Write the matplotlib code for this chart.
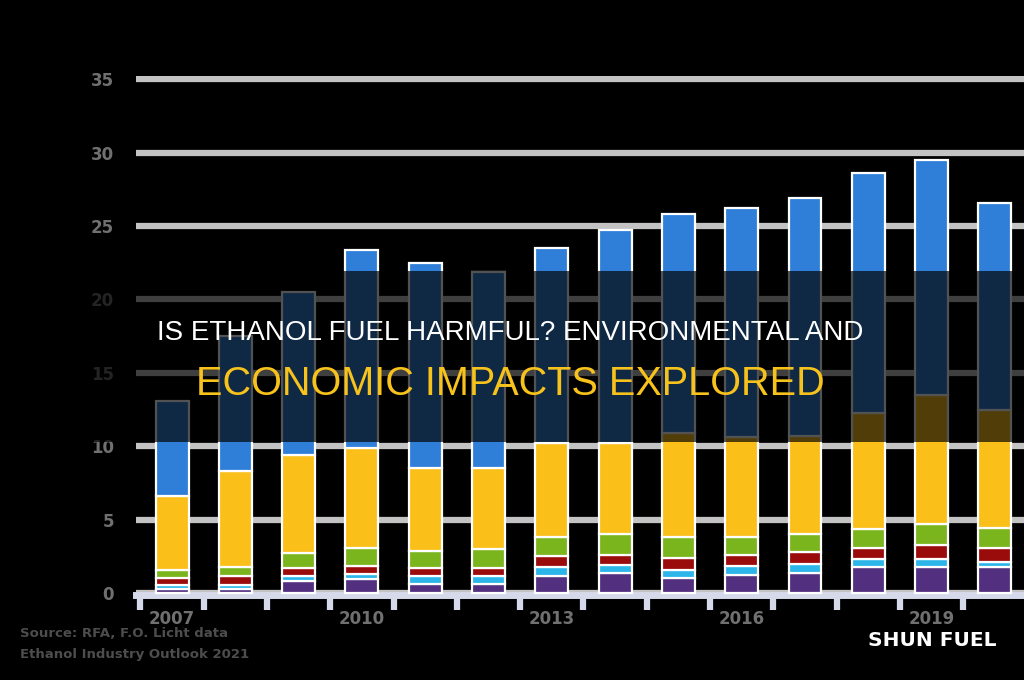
import numpy as np
import matplotlib
matplotlib.use("Agg")
import matplotlib.pyplot as plt
from matplotlib.patches import Rectangle

# data (stacked, bottom -> top)
years = [2007, 2008, 2009, 2010, 2011, 2012, 2013, 2014, 2015, 2016, 2017, 2018, 2019, 2020]
purple = [0.27, 0.27, 0.85, 0.95, 0.60, 0.65, 1.15, 1.35, 1.05, 1.25, 1.40, 1.75, 1.75, 1.75]
light_blue = [0.28, 0.28, 0.35, 0.35, 0.55, 0.50, 0.65, 0.55, 0.55, 0.60, 0.60, 0.55, 0.55, 0.40]
dark_red = [0.45, 0.60, 0.50, 0.55, 0.55, 0.55, 0.70, 0.70, 0.80, 0.75, 0.80, 0.75, 0.95, 0.90]
green = [0.60, 0.65, 1.00, 1.25, 1.15, 1.30, 1.35, 1.45, 1.40, 1.20, 1.25, 1.30, 1.45, 1.40]
yellow = [5.00, 6.50, 6.70, 6.80, 5.65, 5.50, 6.35, 6.15, 7.10, 6.80, 6.65, 7.95, 8.80, 8.05]
blue = [6.50, 9.20, 11.10, 13.50, 14.00, 13.40, 13.30, 14.50, 14.90, 15.60, 16.20, 16.30, 16.00, 14.10]

series = [purple, light_blue, dark_red, green, yellow, blue]
colors = ['#52307f', '#2bb5e8', '#9a0b0c', '#7ab51d', '#fbbf1a', '#2f7fd8']
yticks = [0, 5, 10, 15, 20, 25, 30, 35]
year_labels = ['2007', '2010', '2013', '2016', '2019']

fig = plt.figure(figsize=(10.24, 6.8), dpi=100, facecolor='black')
ax = fig.add_axes([0.1328, 0.1029, 0.8672, 0.785])
ax.set_facecolor('black')

x = np.arange(len(years))
bottom = np.zeros(len(years))
for vals, c in zip(series, colors):
    ax.bar(x, vals, bottom=bottom, width=0.52, color=c, edgecolor='white',
           linewidth=1.6, zorder=3)
    bottom += np.array(vals)

ax.set_xlim(-0.57, 13.46)
ax.set_ylim(-1.15, 35.2)

# grid
ax.set_axisbelow(True)
ax.yaxis.grid(True, color='#c3c3c3', linewidth=4.5)
ax.set_yticks(yticks)
ax.set_yticklabels([str(t) for t in yticks])
ax.tick_params(axis='y', length=0, pad=16, labelsize=12, labelcolor='#707070')
for lab in ax.get_yticklabels():
    lab.set_fontweight('bold')

# baseline with ticks between bars
for s in ['top', 'right', 'left']:
    ax.spines[s].set_visible(False)
ax.spines['bottom'].set_position(('data', -0.1))
ax.spines['bottom'].set_color('#d6d9ea')
ax.spines['bottom'].set_linewidth(5)
ax.spines['bottom'].set_zorder(2)
ax.set_xticks(x - 0.5, minor=True)
ax.set_xticks([years.index(int(y)) for y in year_labels])
ax.set_xticklabels(year_labels)
ax.tick_params(axis='x', which='minor', length=11, width=4.5, color='#d6d9ea', direction='out')
ax.tick_params(axis='x', which='major', length=0, pad=11, labelsize=12, labelcolor='#707070')
for lab in ax.get_xticklabels():
    lab.set_fontweight('bold')

# source note
fig.text(0.02, 0.068, 'Source: RFA, F.O. Licht data', color='#4d4d4d',
         fontsize=9.5, fontweight='bold', ha='left', va='center')
fig.text(0.02, 0.038, 'Ethanol Industry Outlook 2021', color='#4d4d4d',
         fontsize=9.5, fontweight='bold', ha='left', va='center')

# title band
fig.add_artist(Rectangle((0, 0.35), 1, 0.2515, transform=fig.transFigure,
                         facecolor='black', alpha=0.68, edgecolor='none', zorder=5))
fig.text(0.498, 0.51, 'IS ETHANOL FUEL HARMFUL? ENVIRONMENTAL AND', color='white',
         fontsize=20, ha='center', va='center', zorder=6,
         family=['Liberation Sans', 'DejaVu Sans'])
fig.text(0.498, 0.436, 'ECONOMIC IMPACTS EXPLORED', color='#f7c21b',
         fontsize=28.5, ha='center', va='center', zorder=6,
         family=['Liberation Sans', 'DejaVu Sans'])

fig.text(0.91, 0.058, 'SHUN FUEL', color='white', fontsize=14.5, fontweight='bold',
         ha='center', va='center', zorder=6)

fig.savefig('out.png', dpi=100, facecolor='black')
